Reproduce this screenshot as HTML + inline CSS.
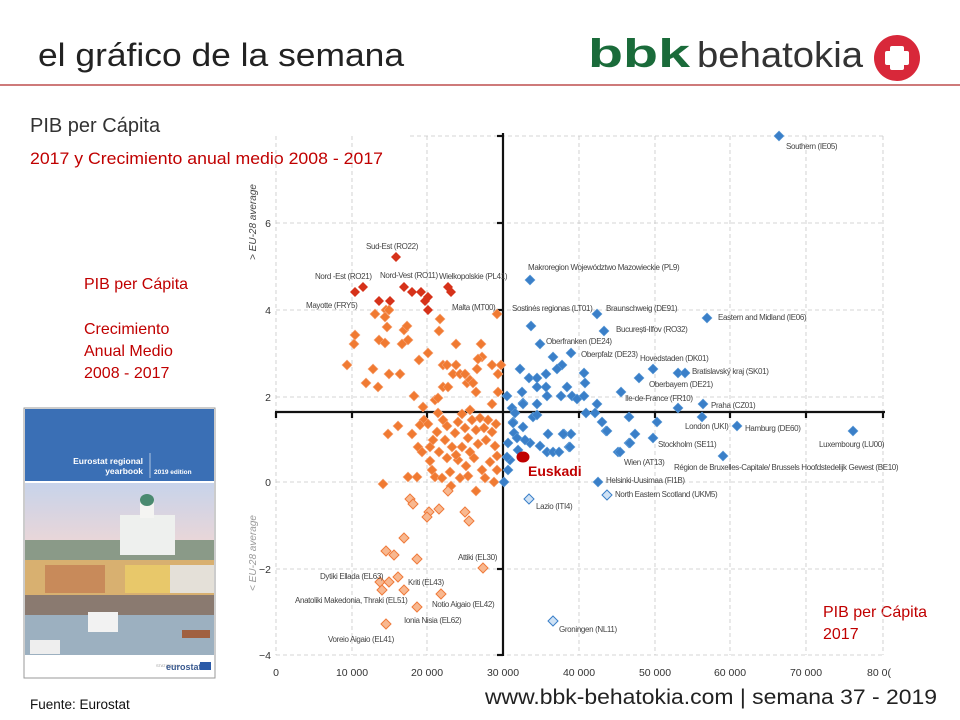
<!DOCTYPE html>
<html><head><meta charset="utf-8"><style>
html,body{margin:0;padding:0;background:#fff}
body{width:960px;height:720px;position:relative;overflow:hidden;font-family:"Liberation Sans",sans-serif}
</style></head><body>
<svg width="960" height="720" style="position:absolute;left:0;top:0" xmlns="http://www.w3.org/2000/svg">
<defs>
<path id="d" d="M0,-5L5,0L0,5L-5,0Z"/>
</defs>
<!-- header -->
<text x="38" y="66" font-size="32" fill="#222" font-family="Liberation Sans,sans-serif" textLength="366" lengthAdjust="spacingAndGlyphs">el gráfico de la semana</text>
<line x1="0" y1="85" x2="960" y2="85" stroke="#b02a2a" stroke-width="1.3"/>
<text x="588" y="67" font-size="40" font-weight="bold" fill="#1a6b3a" textLength="102" lengthAdjust="spacingAndGlyphs">bbk</text>
<text x="697" y="67" font-size="36" fill="#333" textLength="166" lengthAdjust="spacingAndGlyphs">behatokia</text>
<circle cx="897" cy="58" r="23" fill="#d8283a"/>
<rect x="890" y="46" width="14" height="24" fill="#fff" rx="2"/>
<rect x="885" y="51" width="24" height="14" fill="#fff" rx="2"/>
<text x="30" y="132" font-size="20" fill="#333">PIB per Cápita</text>
<text x="30" y="164" font-size="16.5" fill="#c00000" textLength="353" lengthAdjust="spacingAndGlyphs">2017 y Crecimiento anual medio 2008 - 2017</text>
<g font-size="16" fill="#c00000">
<text x="84" y="289">PIB per Cápita</text>
<text x="84" y="334">Crecimiento</text>
<text x="84" y="356">Anual Medio</text>
<text x="84" y="378">2008 - 2017</text>
<text x="823" y="617">PIB per Cápita</text>
<text x="823" y="639">2017</text>
</g>
<text x="30" y="709" font-size="13.5" fill="#111">Fuente:  Eurostat</text>
<text x="485" y="704" font-size="21" fill="#222" textLength="452" lengthAdjust="spacingAndGlyphs">www.bbk-behatokia.com | semana 37 - 2019</text>

<!-- book -->
<rect x="24" y="408" width="191" height="270" fill="#fff" stroke="#999"/>
<rect x="25" y="409" width="189" height="72" fill="#3a6fb5"/>
<text x="143" y="464" font-size="8.5" font-weight="bold" fill="#fff" text-anchor="end">Eurostat regional</text>
<text x="143" y="474" font-size="8.5" font-weight="bold" fill="#fff" text-anchor="end">yearbook</text>
<line x1="150" y1="453" x2="150" y2="478" stroke="#fff" stroke-width="0.6"/>
<text x="154" y="474" font-size="6.5" font-weight="bold" fill="#fff">2019 edition</text>
<defs><linearGradient id="sky" x1="0" y1="0" x2="0" y2="1"><stop offset="0" stop-color="#c7d3ea"/><stop offset="1" stop-color="#ead6d8"/></linearGradient></defs>
<rect x="25" y="483" width="189" height="60" fill="url(#sky)"/>
<rect x="25" y="540" width="189" height="30" fill="#8a9a88"/>
<rect x="120" y="515" width="55" height="40" fill="#eef0ee"/>
<rect x="140" y="500" width="14" height="18" fill="#f4f4f2"/>
<ellipse cx="147" cy="500" rx="7" ry="6" fill="#4a8a70"/>
<rect x="25" y="560" width="189" height="35" fill="#d8b070"/>
<rect x="45" y="565" width="60" height="28" fill="#c88a5a"/>
<rect x="125" y="565" width="45" height="28" fill="#e8c86a"/>
<rect x="170" y="565" width="44" height="28" fill="#e4e0d8"/>
<rect x="25" y="595" width="189" height="20" fill="#8a7a70"/>
<rect x="25" y="615" width="189" height="40" fill="#9cb0c0"/>
<rect x="88" y="612" width="30" height="20" fill="#f2f2f2"/>
<rect x="30" y="640" width="30" height="14" fill="#eeeeee"/>
<rect x="182" y="630" width="28" height="8" fill="#a06040"/>
<text x="156" y="667" font-size="4" fill="#999">STATISTICAL</text>
<text x="166" y="670" font-size="9" font-weight="bold" fill="#3a5a90">eurostat</text>
<rect x="200" y="662" width="11" height="8" fill="#2a5aa8"/>

<!-- grid -->
<g stroke="#c8c8c8" stroke-width="0.8" stroke-dasharray="4,3" fill="none">
<line x1="276" y1="136" x2="276" y2="655"/><line x1="352" y1="136" x2="352" y2="655"/>
<line x1="427" y1="136" x2="427" y2="655"/><line x1="579" y1="136" x2="579" y2="655"/>
<line x1="655" y1="136" x2="655" y2="655"/><line x1="730" y1="136" x2="730" y2="655"/>
<line x1="806" y1="136" x2="806" y2="655"/><line x1="883" y1="136" x2="883" y2="655"/>
<line x1="410" y1="136" x2="883" y2="136"/>
<line x1="276" y1="223" x2="883" y2="223"/><line x1="276" y1="310" x2="883" y2="310"/>
<line x1="276" y1="397" x2="883" y2="397"/><line x1="276" y1="482" x2="883" y2="482"/>
<line x1="276" y1="569" x2="883" y2="569"/><line x1="276" y1="655" x2="883" y2="655"/>
</g>
<!-- axes -->
<g stroke="#111" stroke-width="2.2">
<line x1="503" y1="133" x2="503" y2="656"/>
<line x1="275" y1="412" x2="885" y2="412"/>
<line x1="497" y1="136" x2="503" y2="136"/><line x1="497" y1="223" x2="503" y2="223"/>
<line x1="497" y1="310" x2="503" y2="310"/><line x1="497" y1="569" x2="503" y2="569"/>
<line x1="497" y1="655" x2="503" y2="655"/>
<line x1="276" y1="412" x2="276" y2="418"/><line x1="352" y1="412" x2="352" y2="418"/>
<line x1="427" y1="412" x2="427" y2="418"/><line x1="579" y1="412" x2="579" y2="418"/>
<line x1="655" y1="412" x2="655" y2="418"/><line x1="730" y1="412" x2="730" y2="418"/>
<line x1="806" y1="412" x2="806" y2="418"/><line x1="883" y1="412" x2="883" y2="418"/>
</g>
<g font-size="10.5" fill="#333" text-anchor="end">
<text x="271" y="227">6</text><text x="271" y="314">4</text><text x="271" y="401">2</text>
<text x="271" y="486">0</text><text x="271" y="573">−2</text><text x="271" y="659">−4</text>
</g>
<g font-size="10.5" fill="#333" text-anchor="middle">
<text x="276" y="676">0</text><text x="352" y="676">10 000</text><text x="427" y="676">20 000</text>
<text x="503" y="676">30 000</text><text x="579" y="676">40 000</text><text x="655" y="676">50 000</text>
<text x="730" y="676">60 000</text><text x="806" y="676">70 000</text><text x="879" y="676">80 0(</text>
</g>
<text transform="translate(256,222) rotate(-90)" font-size="10" font-style="italic" fill="#444" text-anchor="middle">&gt; EU-28 average</text>
<text transform="translate(256,553) rotate(-90)" font-size="10" font-style="italic" fill="#999" text-anchor="middle">&lt; EU-28 average</text>

<!-- dark red points -->
<g fill="#d6321a">
<use href="#d" x="396" y="257"/><use href="#d" x="355" y="292"/><use href="#d" x="363" y="287"/>
<use href="#d" x="379" y="301"/><use href="#d" x="390" y="301"/><use href="#d" x="404" y="287"/>
<use href="#d" x="412" y="292"/><use href="#d" x="421" y="292"/><use href="#d" x="425" y="301"/>
<use href="#d" x="428" y="297"/><use href="#d" x="428" y="310"/><use href="#d" x="448" y="287"/>
<use href="#d" x="451" y="292"/>
</g>
<!-- orange points -->
<g fill="#f07a32" stroke="#f6a070" stroke-width="0.6">
<use href="#d" x="375" y="314"/><use href="#d" x="386" y="310"/><use href="#d" x="389" y="310"/>
<use href="#d" x="385" y="317"/><use href="#d" x="387" y="327"/><use href="#d" x="355" y="335"/>
<use href="#d" x="354" y="344"/><use href="#d" x="379" y="340"/><use href="#d" x="385" y="343"/>
<use href="#d" x="404" y="330"/><use href="#d" x="407" y="326"/><use href="#d" x="408" y="340"/>
<use href="#d" x="402" y="344"/><use href="#d" x="440" y="319"/><use href="#d" x="439" y="331"/>
<use href="#d" x="428" y="353"/><use href="#d" x="419" y="360"/><use href="#d" x="347" y="365"/>
<use href="#d" x="373" y="369"/><use href="#d" x="389" y="374"/><use href="#d" x="400" y="374"/>
<use href="#d" x="366" y="383"/><use href="#d" x="378" y="387"/><use href="#d" x="414" y="396"/>
<use href="#d" x="456" y="344"/><use href="#d" x="481" y="344"/><use href="#d" x="443" y="365"/>
<use href="#d" x="447" y="365"/><use href="#d" x="456" y="365"/><use href="#d" x="453" y="374"/>
<use href="#d" x="460" y="374"/><use href="#d" x="465" y="374"/><use href="#d" x="467" y="383"/>
<use href="#d" x="470" y="380"/><use href="#d" x="473" y="383"/><use href="#d" x="477" y="369"/>
<use href="#d" x="482" y="357"/><use href="#d" x="478" y="359"/><use href="#d" x="492" y="365"/>
<use href="#d" x="501" y="365"/><use href="#d" x="498" y="374"/><use href="#d" x="498" y="392"/>
<use href="#d" x="443" y="387"/><use href="#d" x="448" y="387"/><use href="#d" x="476" y="392"/>
<use href="#d" x="435" y="400"/><use href="#d" x="438" y="398"/><use href="#d" x="497" y="314"/>
<use href="#d" x="423" y="407"/><use href="#d" x="492" y="404"/><use href="#d" x="470" y="410"/>
<use href="#d" x="388" y="434"/><use href="#d" x="398" y="426"/><use href="#d" x="412" y="434"/>
<use href="#d" x="418" y="447"/><use href="#d" x="422" y="452"/><use href="#d" x="430" y="447"/>
<use href="#d" x="430" y="461"/><use href="#d" x="432" y="470"/><use href="#d" x="435" y="477"/>
<use href="#d" x="408" y="477"/><use href="#d" x="417" y="477"/><use href="#d" x="424" y="420"/>
<use href="#d" x="420" y="425"/><use href="#d" x="428" y="424"/><use href="#d" x="438" y="413"/>
<use href="#d" x="443" y="420"/><use href="#d" x="447" y="426"/><use href="#d" x="437" y="432"/>
<use href="#d" x="445" y="440"/><use href="#d" x="439" y="452"/><use href="#d" x="447" y="458"/>
<use href="#d" x="452" y="447"/><use href="#d" x="455" y="433"/><use href="#d" x="458" y="422"/>
<use href="#d" x="462" y="414"/><use href="#d" x="465" y="428"/><use href="#d" x="468" y="438"/>
<use href="#d" x="472" y="420"/><use href="#d" x="476" y="430"/><use href="#d" x="480" y="418"/>
<use href="#d" x="484" y="428"/><use href="#d" x="488" y="420"/><use href="#d" x="492" y="432"/>
<use href="#d" x="496" y="424"/><use href="#d" x="462" y="447"/><use href="#d" x="470" y="452"/>
<use href="#d" x="478" y="444"/><use href="#d" x="486" y="440"/><use href="#d" x="495" y="446"/>
<use href="#d" x="458" y="460"/><use href="#d" x="466" y="466"/><use href="#d" x="474" y="458"/>
<use href="#d" x="482" y="470"/><use href="#d" x="490" y="462"/><use href="#d" x="497" y="456"/>
<use href="#d" x="450" y="472"/><use href="#d" x="442" y="478"/><use href="#d" x="460" y="478"/>
<use href="#d" x="485" y="478"/><use href="#d" x="497" y="470"/><use href="#d" x="494" y="482"/>
<use href="#d" x="383" y="484"/><use href="#d" x="451" y="486"/><use href="#d" x="476" y="491"/>
<use href="#d" x="468" y="476"/><use href="#d" x="456" y="455"/><use href="#d" x="433" y="440"/>
</g>
<g fill="#f8b890" stroke="#ef7a3a" stroke-width="1">
<use href="#d" x="448" y="491"/><use href="#d" x="410" y="499"/><use href="#d" x="413" y="504"/>
<use href="#d" x="439" y="509"/><use href="#d" x="429" y="512"/><use href="#d" x="427" y="517"/>
<use href="#d" x="465" y="512"/><use href="#d" x="469" y="521"/><use href="#d" x="404" y="538"/>
<use href="#d" x="386" y="551"/><use href="#d" x="394" y="555"/><use href="#d" x="417" y="559"/>
<use href="#d" x="483" y="568"/><use href="#d" x="380" y="582"/><use href="#d" x="389" y="582"/>
<use href="#d" x="398" y="577"/><use href="#d" x="382" y="590"/><use href="#d" x="404" y="590"/>
<use href="#d" x="441" y="594"/><use href="#d" x="417" y="607"/><use href="#d" x="386" y="624"/>
</g>
<!-- blue points -->
<g fill="#3a7fc8" stroke="#5b9ad6" stroke-width="0.6">
<use href="#d" x="779" y="136"/><use href="#d" x="530" y="280"/><use href="#d" x="597" y="314"/>
<use href="#d" x="707" y="318"/><use href="#d" x="531" y="326"/><use href="#d" x="604" y="331"/>
<use href="#d" x="540" y="344"/><use href="#d" x="571" y="353"/><use href="#d" x="553" y="357"/>
<use href="#d" x="562" y="365"/><use href="#d" x="557" y="369"/><use href="#d" x="520" y="369"/>
<use href="#d" x="653" y="369"/><use href="#d" x="678" y="373"/><use href="#d" x="685" y="373"/>
<use href="#d" x="639" y="378"/><use href="#d" x="584" y="373"/><use href="#d" x="585" y="383"/>
<use href="#d" x="529" y="378"/><use href="#d" x="537" y="378"/><use href="#d" x="546" y="374"/>
<use href="#d" x="546" y="387"/><use href="#d" x="537" y="387"/><use href="#d" x="567" y="387"/>
<use href="#d" x="621" y="392"/><use href="#d" x="522" y="392"/><use href="#d" x="507" y="396"/>
<use href="#d" x="523" y="403"/><use href="#d" x="537" y="404"/><use href="#d" x="547" y="396"/>
<use href="#d" x="561" y="396"/><use href="#d" x="572" y="396"/><use href="#d" x="577" y="399"/>
<use href="#d" x="584" y="396"/><use href="#d" x="597" y="404"/><use href="#d" x="512" y="408"/>
<use href="#d" x="678" y="408"/><use href="#d" x="703" y="404"/><use href="#d" x="586" y="413"/>
<use href="#d" x="595" y="413"/><use href="#d" x="533" y="417"/><use href="#d" x="629" y="417"/>
<use href="#d" x="657" y="422"/><use href="#d" x="702" y="417"/><use href="#d" x="602" y="422"/>
<use href="#d" x="513" y="422"/><use href="#d" x="737" y="426"/><use href="#d" x="853" y="431"/>
<use href="#d" x="606" y="431"/><use href="#d" x="635" y="434"/><use href="#d" x="653" y="438"/>
<use href="#d" x="548" y="434"/><use href="#d" x="564" y="434"/><use href="#d" x="571" y="434"/>
<use href="#d" x="629" y="443"/><use href="#d" x="569" y="447"/><use href="#d" x="547" y="452"/>
<use href="#d" x="553" y="452"/><use href="#d" x="559" y="452"/><use href="#d" x="618" y="452"/>
<use href="#d" x="723" y="456"/><use href="#d" x="598" y="482"/><use href="#d" x="504" y="482"/>
<use href="#d" x="514" y="433"/><use href="#d" x="508" y="443"/><use href="#d" x="517" y="438"/>
<use href="#d" x="523" y="427"/><use href="#d" x="530" y="443"/><use href="#d" x="563" y="434"/>
<use href="#d" x="570" y="447"/><use href="#d" x="510" y="460"/><use href="#d" x="508" y="470"/>
<use href="#d" x="507" y="457"/><use href="#d" x="513" y="423"/><use href="#d" x="523" y="404"/>
<use href="#d" x="537" y="415"/><use href="#d" x="607" y="431"/><use href="#d" x="620" y="452"/>
<use href="#d" x="630" y="443"/><use href="#d" x="518" y="450"/><use href="#d" x="525" y="440"/>
<use href="#d" x="540" y="446"/><use href="#d" x="515" y="413"/>
</g>
<g fill="#cfe2f5" stroke="#3a7fc8" stroke-width="1">
<use href="#d" x="607" y="495"/><use href="#d" x="529" y="499"/><use href="#d" x="553" y="621"/>
</g>
<ellipse cx="523" cy="457" rx="6.5" ry="5.5" fill="#c00000"/>
<text x="528" y="476" font-size="14" font-weight="bold" fill="#c00000">Euskadi</text>

<!-- labels -->
<g font-size="8" fill="#444" letter-spacing="-0.35" font-family="Liberation Sans Narrow,Liberation Sans,sans-serif">
<text x="786" y="149">Southern (IE05)</text>
<text x="528" y="270">Makroregion Województwo Mazowieckie (PL9)</text>
<text x="512" y="311">Sostinės regionas (LT01)</text>
<text x="606" y="311">Braunschweig (DE91)</text>
<text x="718" y="320">Eastern and Midland (IE06)</text>
<text x="616" y="332">București-Ilfov (RO32)</text>
<text x="546" y="344">Oberfranken (DE24)</text>
<text x="581" y="357">Oberpfalz (DE23)</text>
<text x="640" y="361">Hovedstaden (DK01)</text>
<text x="692" y="374">Bratislavský kraj (SK01)</text>
<text x="649" y="387">Oberbayern (DE21)</text>
<text x="625" y="401">Ile-de-France (FR10)</text>
<text x="711" y="408">Praha (CZ01)</text>
<text x="685" y="429">London (UKI)</text>
<text x="745" y="431">Hamburg (DE60)</text>
<text x="658" y="447">Stockholm (SE11)</text>
<text x="819" y="447">Luxembourg (LU00)</text>
<text x="624" y="465">Wien (AT13)</text>
<text x="674" y="470">Région de Bruxelles-Capitale/ Brussels Hoofdstedelijk Gewest (BE10)</text>
<text x="606" y="483">Helsinki-Uusimaa (FI1B)</text>
<text x="615" y="497">North Eastern Scotland (UKM5)</text>
<text x="536" y="509">Lazio (ITI4)</text>
<text x="559" y="632">Groningen (NL11)</text>
<text x="366" y="249">Sud-Est (RO22)</text>
<text x="315" y="279">Nord    -Est (RO21)</text>
<text x="380" y="278">Nord-Vest (RO11)</text>
<text x="439" y="279">Wielkopolskie (PL41)</text>
<text x="306" y="308">Mayotte (FRY5)</text>
<text x="452" y="310">Malta (MT00)</text>
<text x="458" y="560">Attiki (EL30)</text>
<text x="320" y="579">Dytiki Ellada (EL63)</text>
<text x="408" y="585">Kriti (EL43)</text>
<text x="295" y="603">Anatoliki Makedonia, Thraki (EL51)</text>
<text x="432" y="607">Notio Aigaio (EL42)</text>
<text x="404" y="623">Ionia Nisia (EL62)</text>
<text x="328" y="642">Voreio Aigaio (EL41)</text>
</g>
</svg>
</body></html>
